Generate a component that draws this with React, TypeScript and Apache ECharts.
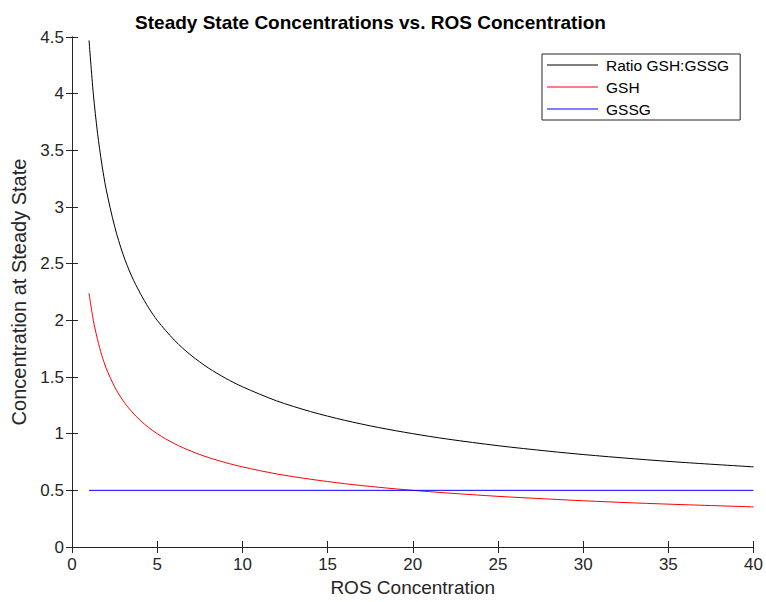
import React, { useEffect, useRef } from "react";
import * as echarts from "echarts";

const rosX = [1, 1.25, 1.5, 1.75, 2, 2.5, 3, 3.5, 4, 4.5, 5, 5.5, 6, 6.5, 7, 7.5, 8, 9, 10, 12, 14, 16, 18, 20, 22, 25, 28, 30, 33, 36, 40];
const ratioValues = [4.47, 4.0, 3.65, 3.38, 3.16, 2.83, 2.58, 2.39, 2.24, 2.11, 2.0, 1.91, 1.826, 1.754, 1.69, 1.633, 1.58, 1.49, 1.414, 1.29, 1.195, 1.118, 1.054, 1.0, 0.953, 0.894, 0.845, 0.816, 0.778, 0.745, 0.707];
const gshValues = [2.24, 2.0, 1.83, 1.69, 1.58, 1.414, 1.29, 1.195, 1.118, 1.054, 1.0, 0.953, 0.913, 0.877, 0.845, 0.816, 0.79, 0.745, 0.707, 0.645, 0.598, 0.559, 0.527, 0.5, 0.477, 0.447, 0.423, 0.408, 0.389, 0.373, 0.354];
const gssgX = [1, 40];
const gssgValues = [0.5, 0.5];
const seriesNames = ["Ratio GSH:GSSG", "GSH", "GSSG"];

const FONT = "Liberation Sans, Arial, Helvetica, sans-serif";
const AX = "#262626";

export default function App() {
  const ref = useRef<HTMLDivElement>(null);
  useEffect(() => {
    if (!ref.current) return;
    const chart = echarts.init(ref.current, undefined, { renderer: "svg" });
    const zip = (xs: number[], ys: number[]) => xs.map((x, i) => [x, ys[i]]);
    const axisCommon = {
      type: "value" as const,
      axisLine: { show: true, lineStyle: { color: AX, width: 1 } },
      axisTick: { show: true, inside: true, length: 6, lineStyle: { color: AX } },
      splitLine: { show: false },
    };
    chart.setOption({
      animation: false,
      backgroundColor: "#ffffff",
      textStyle: { fontFamily: FONT },
      grid: { left: 72, right: 9, top: 37, bottom: 52 },
      graphic: [
        {
          type: "text",
          x: 370.5,
          y: 22,
          style: {
            text: "Steady State Concentrations vs. ROS Concentration",
            fontFamily: FONT,
            fontWeight: "bold",
            fontSize: 19,
            fill: "#000",
            textAlign: "center",
            textVerticalAlign: "middle",
          },
        },
      ],
      legend: {
        orient: "vertical",
        left: 542,
        top: 54,
        data: seriesNames,
        icon: "rect",
        itemWidth: 51,
        itemHeight: 1.2,
        itemGap: 0,
        padding: [0, 11, 0, 5],
        borderColor: AX,
        borderWidth: 1,
        borderRadius: 0,
        backgroundColor: "#fff",
        textStyle: { fontFamily: FONT, fontSize: 15.5, color: "#000", lineHeight: 22, padding: [0, 0, 0, 3] },
      },
      xAxis: [
        {
          ...axisCommon,
          position: "bottom",
          min: 0,
          max: 40,
          interval: 5,
          name: "ROS Concentration",
          nameLocation: "middle",
          nameGap: 31,
          nameTextStyle: { fontFamily: FONT, fontSize: 19, color: AX },
          axisLabel: { fontFamily: FONT, fontSize: 17, color: AX, margin: 9 },
        },
        {
          ...axisCommon,
          position: "top",
          min: 0,
          max: 40,
          interval: 5,
          axisLabel: { show: false },
        },
      ],
      yAxis: [
        {
          ...axisCommon,
          position: "left",
          min: 0,
          max: 4.5,
          interval: 0.5,
          name: "Concentration at Steady State",
          nameLocation: "middle",
          nameGap: 43,
          nameTextStyle: { fontFamily: FONT, fontSize: 20, color: AX },
          axisLabel: { fontFamily: FONT, fontSize: 17, color: AX, margin: 8 },
        },
        {
          ...axisCommon,
          position: "right",
          min: 0,
          max: 4.5,
          interval: 0.5,
          axisLabel: { show: false },
        },
      ],
      series: [
        {
          name: seriesNames[0],
          type: "line",
          data: zip(rosX, ratioValues),
          symbol: "none",
          smooth: 0.3,
          lineStyle: { color: "#000000", width: 1 },
          itemStyle: { color: "#000000" },
        },
        {
          name: seriesNames[1],
          type: "line",
          data: zip(rosX, gshValues),
          symbol: "none",
          smooth: 0.3,
          lineStyle: { color: "#ff0000", width: 1 },
          itemStyle: { color: "#ff0000" },
        },
        {
          name: seriesNames[2],
          type: "line",
          data: zip(gssgX, gssgValues),
          symbol: "none",
          lineStyle: { color: "#0000ff", width: 1 },
          itemStyle: { color: "#0000ff" },
        },
      ],
    });
    return () => chart.dispose();
  }, []);
  return <div ref={ref} style={{ width: 766, height: 602, position: "absolute", left: 0, top: 0 }} />;
}
